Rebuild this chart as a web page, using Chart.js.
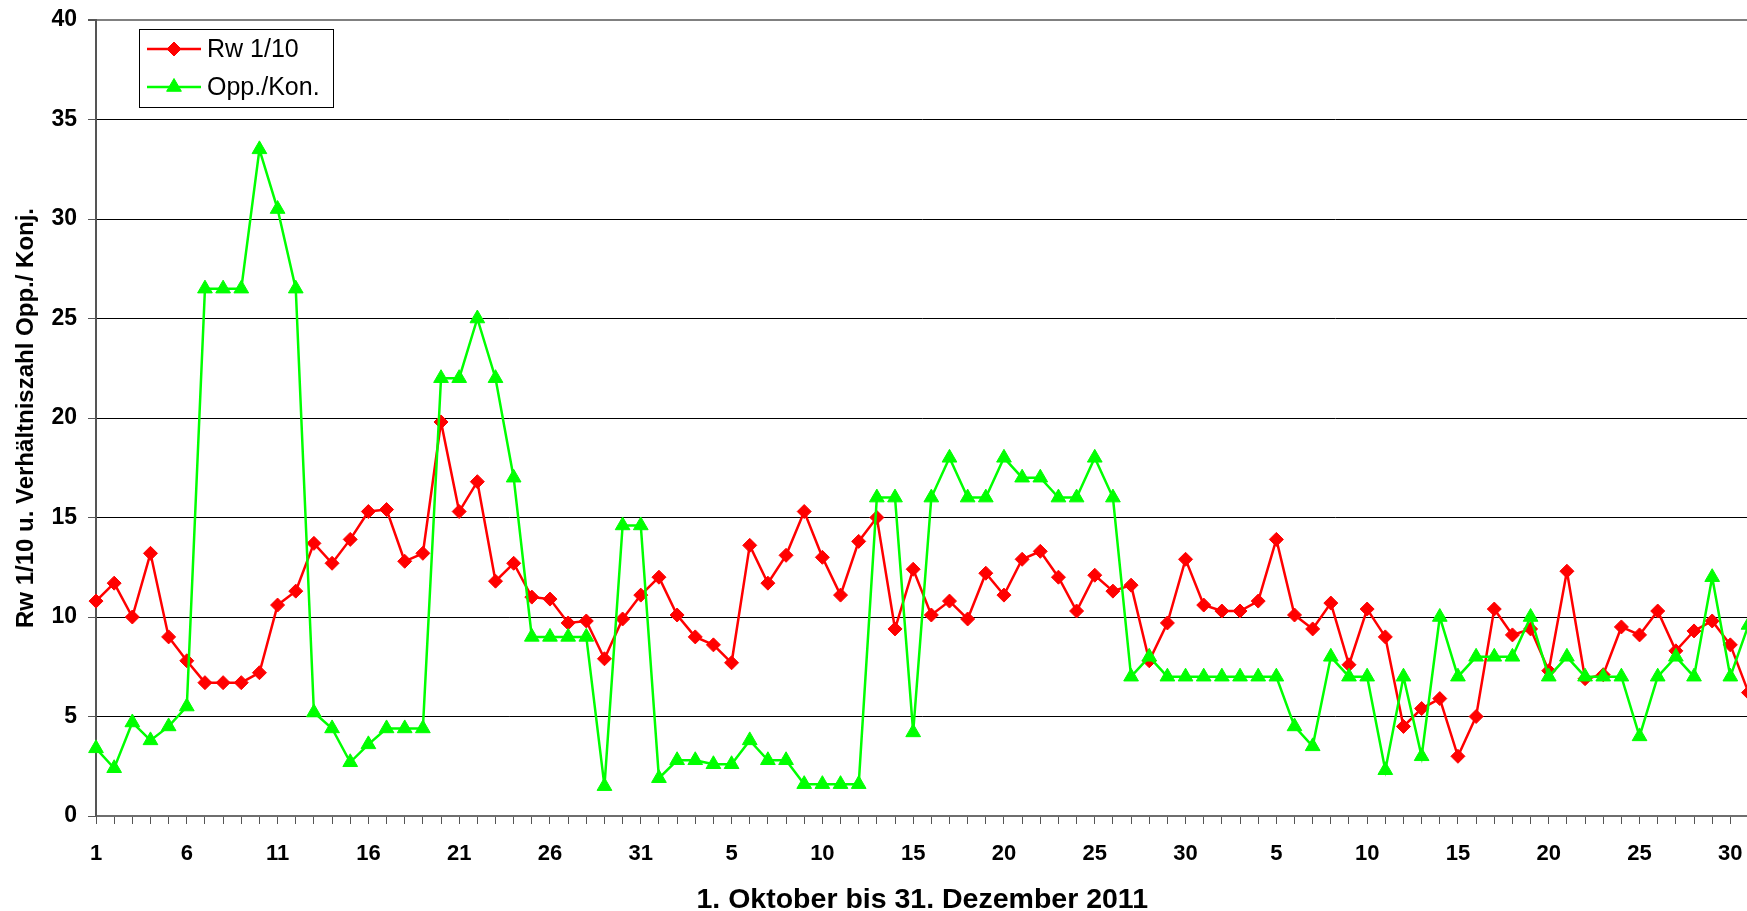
<!DOCTYPE html>
<html>
<head>
<meta charset="utf-8">
<title>Rw 1/10 und Opp./Kon. Oktober bis Dezember 2011</title>
<script src="https://cdn.jsdelivr.net/npm/chart.js@4.4.1/dist/chart.umd.min.js"></script>
<style>
    html, body { margin: 0; padding: 0; background: #fff; overflow: hidden; }
    #wrap { position: absolute; left: 0; top: 0; width: 1758px; height: 917px; }
</style>
</head>
<body>
<div id="wrap"><canvas id="chart" width="1758" height="917"></canvas></div>
<script>
// Tage (Okt, Nov, Dez 2011)
const tage = [
    1, 2, 3, 4, 5, 6, 7, 8, 9, 10, 11, 12, 13, 14, 15, 16, 17, 18, 19, 20, 21, 22, 23, 24, 25, 26, 27, 28, 29, 30, 31,
    1, 2, 3, 4, 5, 6, 7, 8, 9, 10, 11, 12, 13, 14, 15, 16, 17, 18, 19, 20, 21, 22, 23, 24, 25, 26, 27, 28, 29, 30,
    1, 2, 3, 4, 5, 6, 7, 8, 9, 10, 11, 12, 13, 14, 15, 16, 17, 18, 19, 20, 21, 22, 23, 24, 25, 26, 27, 28, 29, 30, 31
];

// Rw 1/10
const rwWerte = [
    10.8, 11.7, 10.0, 13.2, 9.0, 7.8, 6.7, 6.7, 6.7, 7.2, 10.6, 11.3, 13.7, 12.7, 13.9, 15.3, 15.4, 12.8, 13.2, 19.8,
    15.3, 16.8, 11.8, 12.7, 11.0, 10.9, 9.7, 9.8, 7.9, 9.9, 11.1,
    12.0, 10.1, 9.0, 8.6, 7.7, 13.6, 11.7, 13.1, 15.3, 13.0, 11.1, 13.8, 15.0, 9.4, 12.4, 10.1, 10.8, 9.9, 12.2,
    11.1, 12.9, 13.3, 12.0, 10.3, 12.1, 11.3, 11.6, 7.8, 9.7, 12.9,
    10.6, 10.3, 10.3, 10.8, 13.9, 10.1, 9.4, 10.7, 7.6, 10.4, 9.0, 4.5, 5.4, 5.9, 3.0, 5.0, 10.4, 9.1, 9.4, 7.3,
    12.3, 6.9, 7.1, 9.5, 9.1, 10.3, 8.3, 9.3, 9.8, 8.6, 6.2
];

// Verhältniszahl Opp./Kon.
const oppKonWerte = [
    3.4, 2.4, 4.7, 3.8, 4.5, 5.5, 26.5, 26.5, 26.5, 33.5, 30.5, 26.5, 5.2, 4.4, 2.7, 3.6, 4.4, 4.4, 4.4, 22,
    22, 25, 22, 17, 9, 9, 9, 9, 1.5, 14.6, 14.6,
    1.9, 2.8, 2.8, 2.6, 2.6, 3.8, 2.8, 2.8, 1.6, 1.6, 1.6, 1.6, 16, 16, 4.2, 16, 18, 16, 16, 18,
    17, 17, 16, 16, 18, 16, 7, 8, 7, 7,
    7, 7, 7, 7, 7, 4.5, 3.5, 8, 7, 7, 2.3, 7, 3, 10, 7, 8, 8, 8, 10, 7,
    8, 7, 7, 7, 4, 7, 8, 7, 12, 7, 9.6
];

const schrift = 'Arial, "Liberation Sans", sans-serif';

// Legende mit Rahmen im Diagrammbereich
const legendeImRahmen = {
    id: 'legendeImRahmen',
    afterDraw(chart) {
        const ctx = chart.ctx;
        ctx.save();
        ctx.fillStyle = '#fff';
        ctx.fillRect(139.5, 29.5, 194, 78);
        ctx.strokeStyle = '#000';
        ctx.lineWidth = 1;
        ctx.strokeRect(139.5, 29.5, 194, 78);

        chart.data.datasets.forEach((ds, i) => {
            const y = 49 + i * 38;
            ctx.strokeStyle = ds.borderColor;
            ctx.lineWidth = ds.borderWidth;
            ctx.beginPath();
            ctx.moveTo(147, y);
            ctx.lineTo(201, y);
            ctx.stroke();

            // Marker
            ctx.fillStyle = ds.borderColor;
            ctx.lineWidth = 1;
            const r = ds.pointRadius;
            ctx.beginPath();
            if (ds.pointStyle === 'rectRot') {
                ctx.moveTo(174, y - r);
                ctx.lineTo(174 + r, y);
                ctx.lineTo(174, y + r);
                ctx.lineTo(174 - r, y);
            } else {
                ctx.moveTo(174, y - r);
                ctx.lineTo(174 + r * 0.866, y + r / 2);
                ctx.lineTo(174 - r * 0.866, y + r / 2);
            }
            ctx.closePath();
            ctx.fill();
            ctx.stroke();

            ctx.fillStyle = '#000';
            ctx.font = '25px ' + schrift;
            ctx.textBaseline = 'middle';
            ctx.fillText(ds.label, 207, y + 1);
        });
        ctx.restore();
    }
};

const data = {
    labels: tage,
    datasets: [{
        label: 'Rw 1/10',
        data: rwWerte,
        borderColor: '#ff0000',
        backgroundColor: '#ff0000',
        pointBackgroundColor: '#ff0000',
        pointBorderColor: '#ff0000',
        borderWidth: 2.5,
        pointStyle: 'rectRot',
        pointRadius: 7,
        pointBorderWidth: 1,
        tension: 0,
        order: 1
    }, {
        label: 'Opp./Kon.',
        data: oppKonWerte,
        borderColor: '#00ff00',
        backgroundColor: '#00ff00',
        pointBackgroundColor: '#00ff00',
        pointBorderColor: '#00ff00',
        borderWidth: 2.5,
        pointStyle: 'triangle',
        pointRadius: 8.5,
        pointBorderWidth: 1,
        tension: 0,
        order: 0
    }]
};

const options = {
    responsive: false,
    animation: false,
    events: [],
    layout: {
        padding: { left: 8, top: 20, right: 7, bottom: 0 }
    },
    plugins: {
        legend: { display: false },
        tooltip: { enabled: false }
    },
    scales: {
        x: {
            type: 'category',
            offset: false,
            afterFit(scale) {
                scale.height = 101;
                scale.paddingLeft = 0;
                scale.paddingRight = 0;
            },
            grid: {
                drawOnChartArea: false,
                drawTicks: true,
                tickLength: 8,
                tickColor: '#555'
            },
            border: { color: '#6e6e6e', width: 2 },
            ticks: {
                autoSkip: false,
                maxRotation: 0,
                padding: 17,
                color: '#000',
                font: { family: schrift, size: 22, weight: 'bold' },
                callback: function (value, index) {
                    return index % 5 === 0 ? this.getLabelForValue(value) : '';
                }
            },
            title: {
                display: true,
                text: '1. Oktober bis 31. Dezember 2011',
                color: '#000',
                font: { family: schrift, size: 28.5, weight: 'bold' },
                padding: { top: 0, bottom: 0 }
            }
        },
        y: {
            min: 0,
            max: 40,
            afterFit(scale) {
                scale.width = 88;
                scale.paddingTop = 0;
                scale.paddingBottom = 0;
            },
            grid: {
                color: ctx => ctx.tick && ctx.tick.value === 40 ? '#808080' : '#000',
                lineWidth: ctx => ctx.tick && ctx.tick.value === 40 ? 2 : 1,
                drawTicks: true,
                tickLength: 8,
                tickColor: '#555'
            },
            border: { color: '#555', width: 2 },
            ticks: {
                stepSize: 5,
                padding: 11,
                color: '#000',
                font: { family: schrift, size: 23, weight: 'bold' }
            },
            title: {
                display: true,
                text: 'Rw 1/10 u. Verhältniszahl Opp./ Konj.',
                color: '#000',
                font: { family: schrift, size: 24, weight: 'bold' },
                padding: { top: 4, bottom: 0 }
            }
        }
    }
};

window.diagramm = new Chart(document.getElementById('chart'), {
    type: 'line',
    data: data,
    options: options,
    plugins: [legendeImRahmen]
});
</script>
</body>
</html>
